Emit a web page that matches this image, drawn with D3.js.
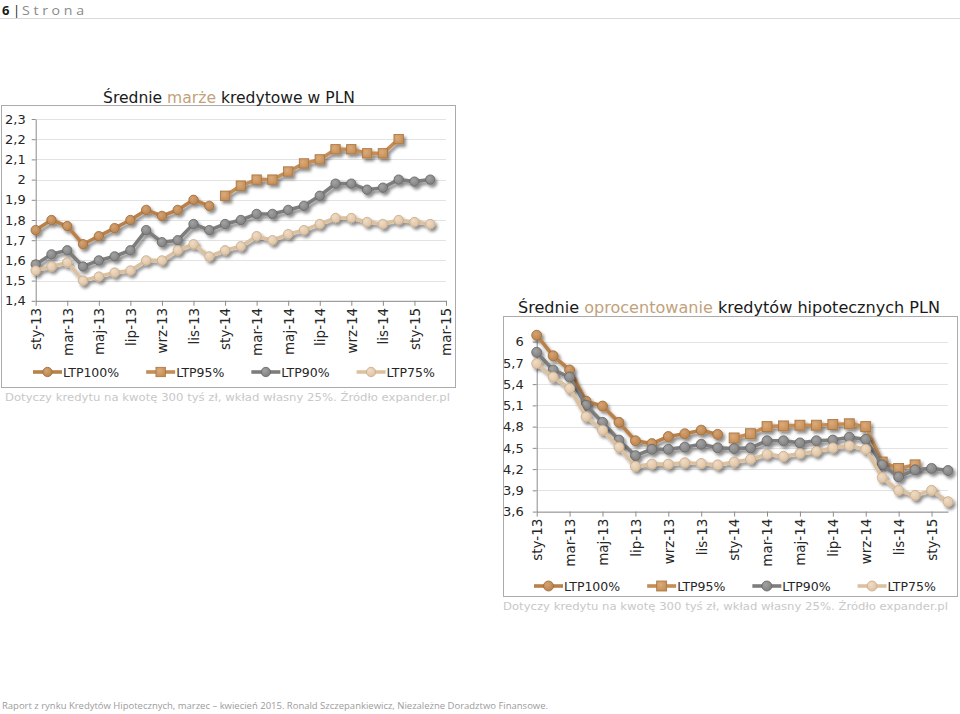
<!DOCTYPE html>
<html><head><meta charset="utf-8">
<script src="https://cdn.jsdelivr.net/npm/d3@7"></script>
<style>body{margin:0;background:#fff}svg{display:block}</style>
</head><body><svg id="c" width="960" height="714"></svg>
<script>
// ---------- DATA ----------
const monthsA = ["sty-13","lut-13","mar-13","kwi-13","maj-13","cze-13","lip-13","sie-13","wrz-13","paź-13","lis-13","gru-13",
  "sty-14","lut-14","mar-14","kwi-14","maj-14","cze-14","lip-14","sie-14","wrz-14","paź-14","lis-14","gru-14",
  "sty-15","lut-15","mar-15"];
const monthsB = ["sty-13","lut-13","mar-13","kwi-13","maj-13","cze-13","lip-13","sie-13","wrz-13","paź-13","lis-13","gru-13",
  "sty-14","lut-14","mar-14","kwi-14","maj-14","cze-14","lip-14","sie-14","wrz-14","paź-14","lis-14","gru-14",
  "sty-15","lut-15"];
const xLabelsA = ["sty-13","mar-13","maj-13","lip-13","wrz-13","lis-13","sty-14","mar-14","maj-14","lip-14","wrz-14","lis-14","sty-15","mar-15"];
const xLabelsB = ["sty-13","mar-13","maj-13","lip-13","wrz-13","lis-13","sty-14","mar-14","maj-14","lip-14","wrz-14","lis-14","sty-15"];
const yTicksA = [1.4,1.5,1.6,1.7,1.8,1.9,2.0,2.1,2.2,2.3];
const yTicksB = [3.6,3.9,4.2,4.5,4.8,5.1,5.4,5.7,6.0];
const seriesNames = ["LTP100%","LTP95%","LTP90%","LTP75%"];

// Średnie marże kredytowe w PLN
const marzeLTP100 = [1.75,1.80,1.77,1.68,1.72,1.76,1.80,1.85,1.82,1.85,1.90,1.87,
  null,null,null,null,null,null,null,null,null,null,null,null,null,null,null];
const marzeLTP95 = [null,null,null,null,null,null,null,null,null,null,null,null,
  1.92,1.97,2.00,2.00,2.04,2.08,2.10,2.15,2.15,2.13,2.13,2.20,null,null,null];
const marzeLTP90 = [1.58,1.63,1.65,1.57,1.60,1.62,1.65,1.75,1.69,1.70,1.78,1.75,
  1.78,1.80,1.83,1.83,1.85,1.87,1.92,1.98,1.98,1.95,1.96,2.00,1.99,2.00,null];
const marzeLTP75 = [1.55,1.57,1.59,1.50,1.52,1.54,1.55,1.60,1.60,1.65,1.68,1.62,
  1.65,1.67,1.72,1.70,1.73,1.75,1.78,1.81,1.81,1.79,1.78,1.80,1.79,1.78,null];

// Średnie oprocentowanie kredytów hipotecznych PLN
const oprocLTP100 = [6.09,5.80,5.60,5.16,5.09,4.86,4.60,4.56,4.66,4.70,4.75,4.69,
  null,null,null,null,null,null,null,null,null,null,null,null,null,null];
const oprocLTP95 = [null,null,null,null,null,null,null,null,null,null,null,null,
  4.64,4.70,4.80,4.81,4.82,4.82,4.83,4.84,4.80,4.30,4.21,4.26,null,null];
const oprocLTP90 = [5.85,5.60,5.50,5.10,4.86,4.61,4.39,4.48,4.48,4.51,4.55,4.50,
  4.49,4.50,4.60,4.60,4.57,4.60,4.61,4.65,4.62,4.26,4.09,4.19,4.21,4.18];
const oprocLTP75 = [5.69,5.50,5.34,4.94,4.75,4.51,4.24,4.27,4.27,4.29,4.28,4.26,
  4.30,4.34,4.41,4.38,4.42,4.45,4.50,4.53,4.48,4.08,3.90,3.83,3.90,3.74];

// ---------- STYLE ----------
const styles = [
  {color:"#b9814a", dark:"#9c6a38", light:"#d4a373", shape:"circle"},
  {color:"#c48d55", dark:"#a87440", light:"#dcab7a", shape:"square"},
  {color:"#7d7d7d", dark:"#666666", light:"#a3a3a3", shape:"circle"},
  {color:"#dcc1a1", dark:"#c9aa86", light:"#efdcc6", shape:"circle"}
];
const FONT = "'DejaVu Sans', 'Century Gothic', sans-serif";
const fmt = d => String(+d.toFixed(1)).replace(".", ",");

const svg = d3.select("#c");
const defs = svg.append("defs");
defs.append("filter").attr("id","sh").attr("x","-30%").attr("y","-30%").attr("width","160%").attr("height","160%")
  .append("feDropShadow").attr("dx",2.2).attr("dy",2.8).attr("stdDeviation",1.8)
  .attr("flood-color","#000").attr("flood-opacity",0.45);
styles.forEach((s,i)=>{
  const g = defs.append("radialGradient").attr("id","g"+i).attr("cx","38%").attr("cy","35%").attr("r","70%");
  g.append("stop").attr("offset","0%").attr("stop-color",s.light);
  g.append("stop").attr("offset","100%").attr("stop-color",s.color);
});

// header
svg.append("line").attr("x1",0).attr("x2",960).attr("y1",18.5).attr("y2",18.5).attr("stroke","#d9d9d9");
svg.append("text").attr("x",2).attr("y",15).attr("font-family","'Open Sans',sans-serif").attr("font-size",13)
  .attr("font-weight","bold").attr("fill","#1a1a1a").text("6");
svg.append("text").attr("x",13).attr("y",15).attr("font-family","'Open Sans',sans-serif").attr("font-size",13)
  .attr("fill","#1a1a1a").text("|");
svg.append("text").attr("x",22).attr("y",15).attr("font-family","'Open Sans',sans-serif").attr("font-size",12.5)
  .attr("fill","#8a8a8a").attr("textLength",62).attr("lengthAdjust","spacingAndGlyphs").text("S t r o n a");

// footer
svg.append("text").attr("x",2).attr("y",709).attr("font-family","'Open Sans',sans-serif").attr("font-size",9.5)
  .attr("fill","#9c9c9c").attr("textLength",546).attr("lengthAdjust","spacingAndGlyphs")
  .text("Raport z rynku Kredytów Hipotecznych, marzec – kwiecień 2015. Ronald Szczepankiewicz, Niezależne Doradztwo Finansowe.");

function drawChart(cfg){
  const g = svg.append("g");
  // box
  g.append("rect").attr("x",cfg.box[0]+0.5).attr("y",cfg.box[1]+0.5).attr("width",cfg.box[2]-cfg.box[0])
    .attr("height",cfg.box[3]-cfg.box[1]).attr("fill","#fff").attr("stroke","#ababab");
  // title
  const t = g.append("text").attr("x",(cfg.box[0]+cfg.box[2])/2 + cfg.titleDx).attr("y",cfg.titleY)
    .attr("text-anchor","middle").attr("font-family",FONT).attr("font-size",15).attr("fill","#1a1a1a")
    .attr("textLength",cfg.titleLen).attr("lengthAdjust","spacingAndGlyphs");
  t.append("tspan").text(cfg.title[0]);
  t.append("tspan").attr("fill","#c2a27c").text(cfg.title[1]);
  t.append("tspan").text(cfg.title[2]);

  const x = d3.scalePoint().domain(cfg.months).range(cfg.xRange);
  const y = d3.scaleLinear().domain(cfg.yDomain).range(cfg.yRange);

  // gridlines
  g.append("g").selectAll("line").data(cfg.yTicks).join("line")
    .attr("x1",cfg.xRange[0]).attr("x2",cfg.xRange[1])
    .attr("y1",d=>Math.round(y(d))+0.5).attr("y2",d=>Math.round(y(d))+0.5)
    .attr("stroke","#e3e3e3").attr("stroke-width",1);

  // y axis
  const ya = g.append("g").attr("transform",`translate(${cfg.xRange[0]},0)`)
    .call(d3.axisLeft(y).tickValues(cfg.yTicks).tickFormat(fmt).tickSize(4).tickSizeOuter(0).tickPadding(cfg.yPad));
  ya.select(".domain").attr("stroke","#8c8c8c");
  ya.selectAll(".tick line").attr("stroke","#8c8c8c");
  ya.selectAll("text").attr("font-family",FONT).attr("font-size",13).attr("fill","#262626");

  // x axis
  const xa = g.append("g").attr("transform",`translate(0,${cfg.yRange[0]})`)
    .call(d3.axisBottom(x).tickValues(cfg.xLabels).tickSize(5).tickSizeOuter(0));
  xa.select(".domain").attr("stroke","#8c8c8c");
  xa.selectAll(".tick line").attr("stroke","#8c8c8c");
  xa.selectAll("text").attr("font-family",FONT).attr("font-size",13.5).attr("fill","#262626")
    .attr("transform","rotate(-90)").attr("x",-7).attr("y",0).attr("dy","0.36em").attr("text-anchor","end");

  // series
  const line = d3.line().defined(d=>d.v!=null).x(d=>x(d.m)).y(d=>y(d.v));
  cfg.series.forEach((vals,i)=>{
    const st = styles[i];
    const pts = vals.map((v,j)=>({m:cfg.months[j], v}));
    const sg = g.append("g").attr("filter","url(#sh)");
    sg.append("path").datum(pts).attr("d",line).attr("fill","none").attr("stroke",st.color)
      .attr("stroke-width",3.6).attr("stroke-linejoin","round").attr("stroke-linecap","round");
    const dp = pts.filter(d=>d.v!=null);
    if(st.shape==="circle"){
      sg.selectAll("circle").data(dp).join("circle").attr("cx",d=>x(d.m)).attr("cy",d=>y(d.v)).attr("r",cfg.r)
        .attr("fill",`url(#g${i})`).attr("stroke",st.dark).attr("stroke-width",0.8);
    } else {
      const s = cfg.r*2;
      sg.selectAll("rect").data(dp).join("rect").attr("x",d=>x(d.m)-s/2).attr("y",d=>y(d.v)-s/2)
        .attr("width",s).attr("height",s).attr("fill",`url(#g${i})`).attr("stroke",st.dark).attr("stroke-width",0.8);
    }
  });

  // legend
  const lg = g.append("g").attr("transform",`translate(0,${cfg.legendY})`);
  let cx = cfg.legendX;
  seriesNames.forEach((n,i)=>{
    const st = styles[i];
    const it = lg.append("g").attr("transform",`translate(${cx},0)`);
    it.append("line").attr("x1",0).attr("x2",29).attr("stroke",st.color).attr("stroke-width",3.6);
    if(st.shape==="circle") it.append("circle").attr("cx",14.5).attr("r",cfg.r).attr("fill",`url(#g${i})`).attr("stroke",st.dark).attr("stroke-width",0.8);
    else it.append("rect").attr("x",14.5-cfg.r).attr("y",-cfg.r).attr("width",cfg.r*2).attr("height",cfg.r*2).attr("fill",`url(#g${i})`).attr("stroke",st.dark).attr("stroke-width",0.8);
    const tx = it.append("text").attr("x",30).attr("y",0).attr("dy","0.36em").attr("font-family",FONT)
      .attr("font-size",12.5).attr("fill","#262626").text(n);
    cx += 30 + tx.node().getComputedTextLength() + 27;
  });

  // source
  g.append("text").attr("x",cfg.srcX).attr("y",cfg.srcY).attr("font-family",FONT).attr("font-size",11)
    .attr("fill","#c8c8c8").attr("textLength",cfg.srcLen).attr("lengthAdjust","spacingAndGlyphs")
    .text("Dotyczy kredytu na kwotę 300 tyś zł, wkład własny 25%. Źródło expander.pl");
}

drawChart({
  box:[1,105,455,387], title:["Średnie ","marże"," kredytowe w PLN"], titleY:103, titleDx:1, titleLen:252,
  months:monthsA, xLabels:xLabelsA, xRange:[35.7,446], yDomain:[1.4,2.3], yRange:[300.8,119], yTicks:yTicksA, yPad:6,
  series:[marzeLTP100,marzeLTP95,marzeLTP90,marzeLTP75], r:4.7,
  legendY:372, legendX:33, srcX:5, srcY:401, srcLen:445
});
drawChart({
  box:[503,316,957,596], title:["Średnie ","oprocentowanie"," kredytów hipotecznych PLN"], titleY:313, titleDx:-1, titleLen:422,
  months:monthsB, xLabels:xLabelsB, xRange:[536.7,948], yDomain:[3.6,6.15], yRange:[511.6,331], yTicks:yTicksB, yPad:9,
  series:[oprocLTP100,oprocLTP95,oprocLTP90,oprocLTP75], r:5,
  legendY:586, legendX:534, srcX:503, srcY:610, srcLen:445
});
</script></body></html>
